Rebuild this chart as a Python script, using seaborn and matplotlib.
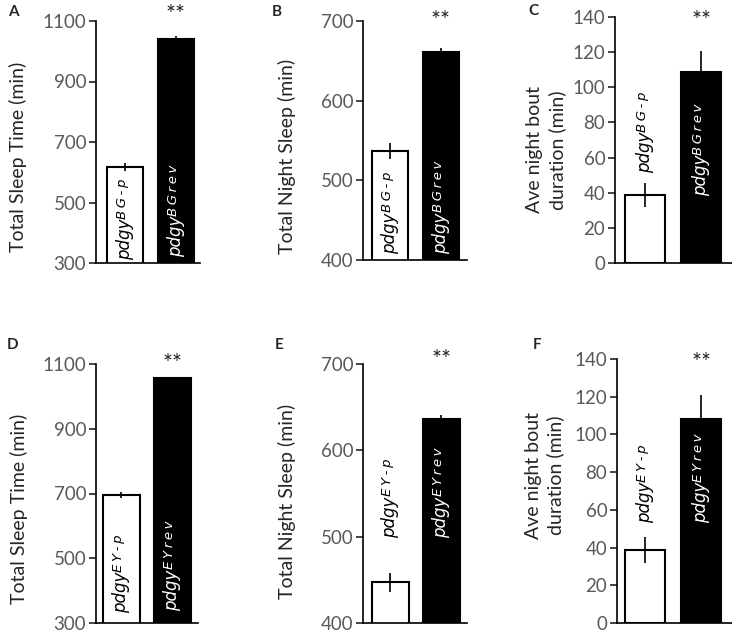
import matplotlib
matplotlib.use("Agg")
import matplotlib.pyplot as plt
import seaborn as sns
import pandas as pd

# DATA

genotypes = ["control", "revertant"]
base_name = "pdgy"
sup_bg = ["BG-p", "BGrev"]
sup_ey = ["EY-p", "EYrev"]

total_sleep_bg = [617, 1040]
total_sleep_bg_err = [12, 12]
night_sleep_bg = [537, 661]
night_sleep_bg_err = [10, 5]
bout_bg = [38.7, 108.7]
bout_bg_err = [7, 12]

total_sleep_ey = [695, 1057]
total_sleep_ey_err = [10, 3]
night_sleep_ey = [447, 636]
night_sleep_ey_err = [11, 5]
bout_ey = [38.7, 108]
bout_ey_err = [7, 13]

ylabel_total = "Total Sleep Time (min)"
ylabel_night = "Total Night Sleep (min)"
ylabel_bout = "Ave night bout\nduration (min)"

# STYLE

sns.set_style("ticks")
plt.rcParams["font.family"] = ["Lato", "DejaVu Sans"]

W, H = 732, 632
fig = plt.figure(figsize=(W / 100, H / 100), dpi=100)

# panel layout: pixel box (left, right, top, bottom), xlim, ylim, ticks,
# label positions
panels = [
    dict(name="A", box=(96, 200, 21, 263), xlim=(-0.57, 1.47), ylim=(300, 1100),
         ticks=[300, 500, 700, 900, 1100], vals=total_sleep_bg, err=total_sleep_bg_err,
         sups=sup_bg, ylabel=ylabel_total, lab_xy=(-0.75, 0.44),
         txt_y=(310, 320), star_y=1120, letter=(13, 12)),
    dict(name="B", box=(363, 467, 21, 260), xlim=(-0.53, 1.51), ylim=(400, 700),
         ticks=[400, 500, 600, 700], vals=night_sleep_bg, err=night_sleep_bg_err,
         sups=sup_bg, ylabel=ylabel_night, lab_xy=(-0.73, 0.435),
         txt_y=(408, 408), star_y=701, letter=(277, 12)),
    dict(name="C", box=(615, 732, 17, 263), xlim=(-0.53, 1.55), ylim=(0, 140),
         ticks=[0, 20, 40, 60, 80, 100, 120, 140], vals=bout_bg, err=bout_bg_err,
         sups=sup_bg, ylabel=ylabel_bout, lab_xy=(-0.59, 0.46),
         txt_y=(51, 38), star_y=138, letter=(533, 11)),
    dict(name="D", box=(96, 198, 364, 623), xlim=(-0.49, 1.5), ylim=(300, 1100),
         ticks=[300, 500, 700, 900, 1100], vals=total_sleep_ey, err=total_sleep_ey_err,
         sups=sup_ey, ylabel=ylabel_total, lab_xy=(-0.76, 0.44),
         txt_y=(330, 338), star_y=1103, letter=(13, 345)),
    dict(name="E", box=(363, 467, 364, 623), xlim=(-0.53, 1.5), ylim=(400, 700),
         ticks=[400, 500, 600, 700], vals=night_sleep_ey, err=night_sleep_ey_err,
         sups=sup_ey, ylabel=ylabel_night, lab_xy=(-0.73, 0.47),
         txt_y=(499, 499), star_y=705, letter=(279, 345)),
    dict(name="F", box=(617, 732, 359, 623), xlim=(-0.5, 1.55), ylim=(0, 140),
         ticks=[0, 20, 40, 60, 80, 100, 120, 140], vals=bout_ey, err=bout_ey_err,
         sups=sup_ey, ylabel=ylabel_bout, lab_xy=(-0.63, 0.56),
         txt_y=(53, 53), star_y=138, letter=(537, 345)),
]

for p in panels:
    l, r, t, b = p["box"]
    ax = fig.add_axes([l / W, 1 - b / H, (r - l) / W, (b - t) / H])
    df = pd.DataFrame({"genotype": genotypes, "value": p["vals"], "err": p["err"]})

    sns.barplot(data=df, x="genotype", y="value", hue="genotype",
                palette=["white", "black"], edgecolor="black", linewidth=1.5,
                width=0.72, errorbar=None, legend=False, ax=ax)
    ax.errorbar(range(len(df)), df["value"], yerr=df["err"], fmt="none",
                ecolor="black", elinewidth=1.2, capsize=0, zorder=5)

    ax.set_xlim(p["xlim"])
    ax.set_ylim(p["ylim"])
    ax.set_yticks(p["ticks"])
    ax.set_xticks([])
    ax.set_xlabel("")
    ax.set_ylabel("")
    sns.despine(ax=ax)
    for s in ["left", "bottom"]:
        ax.spines[s].set_linewidth(1.2)
        ax.spines[s].set_color("black")
    ax.tick_params(axis="y", direction="out", length=5, width=1.2,
                   labelsize=13.5, labelcolor="#595959", pad=2)

    # axis label
    ax.text(p["lab_xy"][0], p["lab_xy"][1], p["ylabel"], transform=ax.transAxes,
            rotation=90, ha="center", va="center", fontsize=14,
            linespacing=1.3, multialignment="center")

    # genotype names (italic, with spaced superscript) inside / above bars
    for i, (sup, ty) in enumerate(zip(p["sups"], p["txt_y"])):
        col = "black" if i == 0 else "white"
        base = ax.text(i, ty, base_name, rotation=90, ha="center", va="bottom",
                       fontsize=12, fontstyle="italic", family="DejaVu Sans",
                       color=col, zorder=6)
        ax.annotate("\u2009".join(sup), xy=(0.36, 1.0), xycoords=base, rotation=90,
                    ha="center", va="bottom", fontsize=9.5, fontstyle="italic",
                    family="DejaVu Sans", color=col, zorder=6)

    # significance stars
    ax.text(1, p["star_y"], "**", ha="center", va="center", fontsize=17,
            color="#222222", clip_on=False)

    # panel letter
    fig.text(p["letter"][0] / W, 1 - p["letter"][1] / H, p["name"],
             fontsize=11, fontweight="bold", ha="center", va="center")

fig.savefig("out.png", dpi=100)
